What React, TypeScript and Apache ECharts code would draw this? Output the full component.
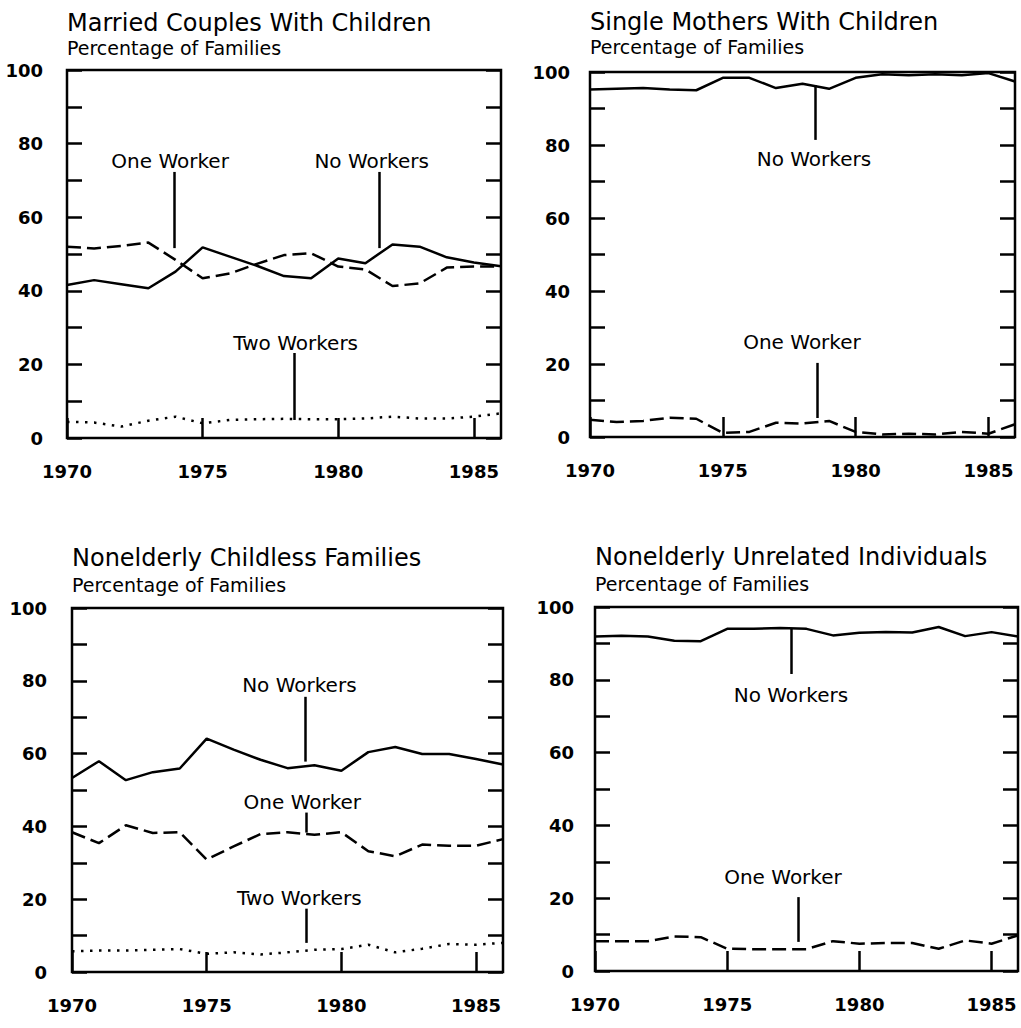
import React, { useEffect, useRef } from "react";
import * as echarts from "echarts";

const years = [1970, 1971, 1972, 1973, 1974, 1975, 1976, 1977, 1978, 1979, 1980, 1981, 1982, 1983, 1984, 1985, 1986];

// Married Couples With Children
const mcNoWorkers = [41.6, 42.9, 41.8, 40.7, 45.2, 51.8, 49.3, 46.8, 44.0, 43.4, 48.8, 47.5, 52.6, 52.0, 49.1, 47.7, 46.7];
const mcOneWorker = [52.0, 51.5, 52.2, 53.1, 48.4, 43.4, 44.7, 47.3, 49.7, 50.2, 46.6, 45.8, 41.3, 42.0, 46.3, 46.6, 46.6];
const mcTwoWorkers = [4.4, 4.2, 3.1, 4.7, 5.8, 4.0, 4.9, 5.1, 5.2, 5.1, 5.1, 5.3, 5.8, 5.3, 5.3, 5.8, 6.7];

// Single Mothers With Children
const smNoWorkers = [95.2, 95.4, 95.6, 95.2, 95.0, 98.4, 98.4, 95.6, 96.8, 95.4, 98.4, 99.4, 99.1, 99.4, 99.1, 99.7, 97.4];
const smOneWorker = [4.7, 4.1, 4.4, 5.3, 5.0, 1.1, 1.4, 3.9, 3.7, 4.4, 1.4, 0.7, 0.9, 0.7, 1.4, 0.9, 3.5];

// Nonelderly Childless Families
const ncNoWorkers = [53.3, 57.9, 52.7, 54.9, 55.9, 64.1, 61.1, 58.3, 56.0, 56.8, 55.3, 60.4, 61.8, 59.9, 59.9, 58.5, 57.0];
const ncOneWorker = [38.4, 35.4, 40.3, 38.2, 38.4, 30.9, 34.5, 37.9, 38.4, 37.7, 38.4, 33.2, 31.8, 35.0, 34.7, 34.7, 36.5];
const ncTwoWorkers = [5.7, 5.9, 5.9, 6.1, 6.3, 5.0, 5.4, 4.8, 5.4, 6.1, 6.3, 7.5, 5.4, 6.4, 7.7, 7.5, 8.0];

// Nonelderly Unrelated Individuals
const nuNoWorkers = [91.9, 92.1, 91.9, 90.7, 90.6, 94.0, 94.0, 94.2, 94.0, 92.2, 92.9, 93.1, 93.0, 94.5, 92.0, 93.1, 91.9];
const nuOneWorker = [8.2, 8.2, 8.2, 9.5, 9.3, 6.1, 6.0, 6.0, 6.0, 8.2, 7.5, 7.7, 7.7, 6.1, 8.4, 7.5, 9.8];

const panelTitles = [
  "Married Couples With Children",
  "Single Mothers With Children",
  "Nonelderly Childless Families",
  "Nonelderly Unrelated Individuals",
];
const subtitleText = "Percentage of Families";

// Annotation labels (data coordinates): text, label x, label y, leader x, leader top, leader bottom
const mcNotes = [
  { text: "One Worker", x: 1973.8, y: 75.3, lx: 1973.95, ly1: 72.3, ly2: 51.6 },
  { text: "No Workers", x: 1981.23, y: 75.3, lx: 1981.5, ly1: 72.3, ly2: 51.6 },
  { text: "Two Workers", x: 1978.43, y: 25.8, lx: 1978.36, ly1: 23.1, ly2: 4.9 },
];
const smNotes = [
  { text: "No Workers", x: 1978.43, y: 76.2, lx: 1978.47, ly1: 96.4, ly2: 81.4 },
  { text: "One Worker", x: 1977.98, y: 26.0, lx: 1978.55, ly1: 20.3, ly2: 5.2 },
];
const ncNotes = [
  { text: "No Workers", x: 1978.44, y: 78.9, lx: 1978.66, ly1: 75.6, ly2: 57.8 },
  { text: "One Worker", x: 1978.55, y: 46.8, lx: 1978.7, ly1: 43.8, ly2: 38.3 },
  { text: "Two Workers", x: 1978.44, y: 20.4, lx: 1978.7, ly1: 17.4, ly2: 8.0 },
];
const nuNotes = [
  { text: "No Workers", x: 1977.41, y: 75.8, lx: 1977.41, ly1: 94.2, ly2: 81.6 },
  { text: "One Worker", x: 1977.11, y: 25.8, lx: 1977.68, ly1: 20.3, ly2: 8.0 },
];

const SOLID = "solid";
const DASHED = [14, 6];
const DOTTED = [2.5, 6.5];

const panels = [
  { lines: [{ v: mcNoWorkers, t: SOLID }, { v: mcOneWorker, t: DASHED }, { v: mcTwoWorkers, t: DOTTED }], notes: mcNotes },
  { lines: [{ v: smNoWorkers, t: SOLID }, { v: smOneWorker, t: DASHED }], notes: smNotes },
  { lines: [{ v: ncNoWorkers, t: SOLID }, { v: ncOneWorker, t: DASHED }, { v: ncTwoWorkers, t: DOTTED }], notes: ncNotes },
  { lines: [{ v: nuNoWorkers, t: SOLID }, { v: nuOneWorker, t: DASHED }], notes: nuNotes },
];

const gridBoxes = [
  { left: 67, top: 70, width: 434, height: 368 },
  { left: 590, top: 72, width: 425, height: 365 },
  { left: 72, top: 608, width: 431, height: 364 },
  { left: 595, top: 607, width: 423, height: 364 },
];
const titleY = [[23, 48], [22, 47], [558, 585], [557, 584]];
const yLabelMargin = [24, 20, 25, 21];

const TEXT_FONT = "'DejaVu Sans', sans-serif";
const TICK_FONT = "'DejaVu Sans', sans-serif";

function buildOption() {
  const grid: any[] = [];
  const xAxis: any[] = [];
  const yAxis: any[] = [];
  const series: any[] = [];
  const graphic: any[] = [];

  gridBoxes.forEach((g, i) => {
    grid.push({ ...g, show: true, borderColor: "#000", borderWidth: 2.5, backgroundColor: "transparent", containLabel: false });
    xAxis.push({
      type: "value",
      gridIndex: i,
      min: 1970,
      max: 1986,
      interval: 5,
      axisLine: { show: false },
      axisTick: { show: true, inside: true, length: 20, lineStyle: { color: "#000", width: 2.5 } },
      splitLine: { show: false },
      axisLabel: {
        show: true,
        showMaxLabel: false,
        margin: 24,
        color: "#000",
        fontFamily: TICK_FONT,
        fontWeight: "bold",
        fontSize: 18,
        formatter: (v: number) => String(v),
      },
    });
    const yBase = {
      type: "value",
      gridIndex: i,
      min: 0,
      max: 100,
      interval: 20,
      axisLine: { show: false },
      axisTick: { show: true, inside: true, length: 15, lineStyle: { color: "#000", width: 2.5 } },
      minorTick: { show: true, splitNumber: 2, length: 15, lineStyle: { color: "#000", width: 2.5 } },
      splitLine: { show: false },
      minorSplitLine: { show: false },
    };
    yAxis.push({
      ...yBase,
      position: "left",
      axisLabel: {
        show: true,
        margin: yLabelMargin[i],
        color: "#000",
        fontFamily: TICK_FONT,
        fontWeight: "bold",
        fontSize: 18,
      },
    });
    yAxis.push({ ...yBase, position: "right", axisLabel: { show: false } });

    const p = panels[i];
    p.lines.forEach((l) => {
      series.push({
        type: "line",
        xAxisIndex: i,
        yAxisIndex: 2 * i,
        data: years.map((yr, k) => [yr, l.v[k]]),
        symbol: "none",
        showSymbol: false,
        silent: true,
        lineStyle: { color: "#000", width: 2.5, type: l.t, cap: "butt" },
        z: 3,
      });
    });
    series.push({
      type: "scatter",
      xAxisIndex: i,
      yAxisIndex: 2 * i,
      silent: true,
      symbol: "circle",
      symbolSize: 0.01,
      itemStyle: { color: "#000", opacity: 1 },
      data: p.notes.map((n) => ({ name: n.text, value: [n.x, n.y] })),
      label: {
        show: true,
        position: "inside",
        formatter: "{b}",
        color: "#000",
        opacity: 1,
        textBorderWidth: 0,
        fontFamily: TEXT_FONT,
        fontSize: 20,
      },
      markLine: {
        silent: true,
        symbol: ["none", "none"],
        label: { show: false },
        lineStyle: { color: "#000", width: 2.5, type: "solid", opacity: 1 },
        data: p.notes.map((n) => [{ coord: [n.lx, n.ly1] }, { coord: [n.lx, n.ly2] }]),
      },
      z: 4,
    });

    graphic.push({
      type: "text",
      x: g.left,
      y: titleY[i][0],
      style: { text: panelTitles[i], font: `24px ${TEXT_FONT}`, fill: "#000", verticalAlign: "middle", align: "left" },
    });
    graphic.push({
      type: "text",
      x: g.left,
      y: titleY[i][1],
      style: { text: subtitleText, font: `19px ${TEXT_FONT}`, fill: "#000", verticalAlign: "middle", align: "left" },
    });
  });

  return { animation: false, backgroundColor: "#fff", grid, xAxis, yAxis, series, graphic };
}

export default function App() {
  const ref = useRef<HTMLDivElement>(null);
  useEffect(() => {
    if (!ref.current) return;
    const chart = echarts.init(ref.current, undefined, { renderer: "svg" });
    chart.setOption(buildOption() as any);
    return () => chart.dispose();
  }, []);
  return (
    <div
      ref={ref}
      style={{ position: "absolute", left: 0, top: 0, width: 1021, height: 1028, background: "#fff" }}
    />
  );
}
